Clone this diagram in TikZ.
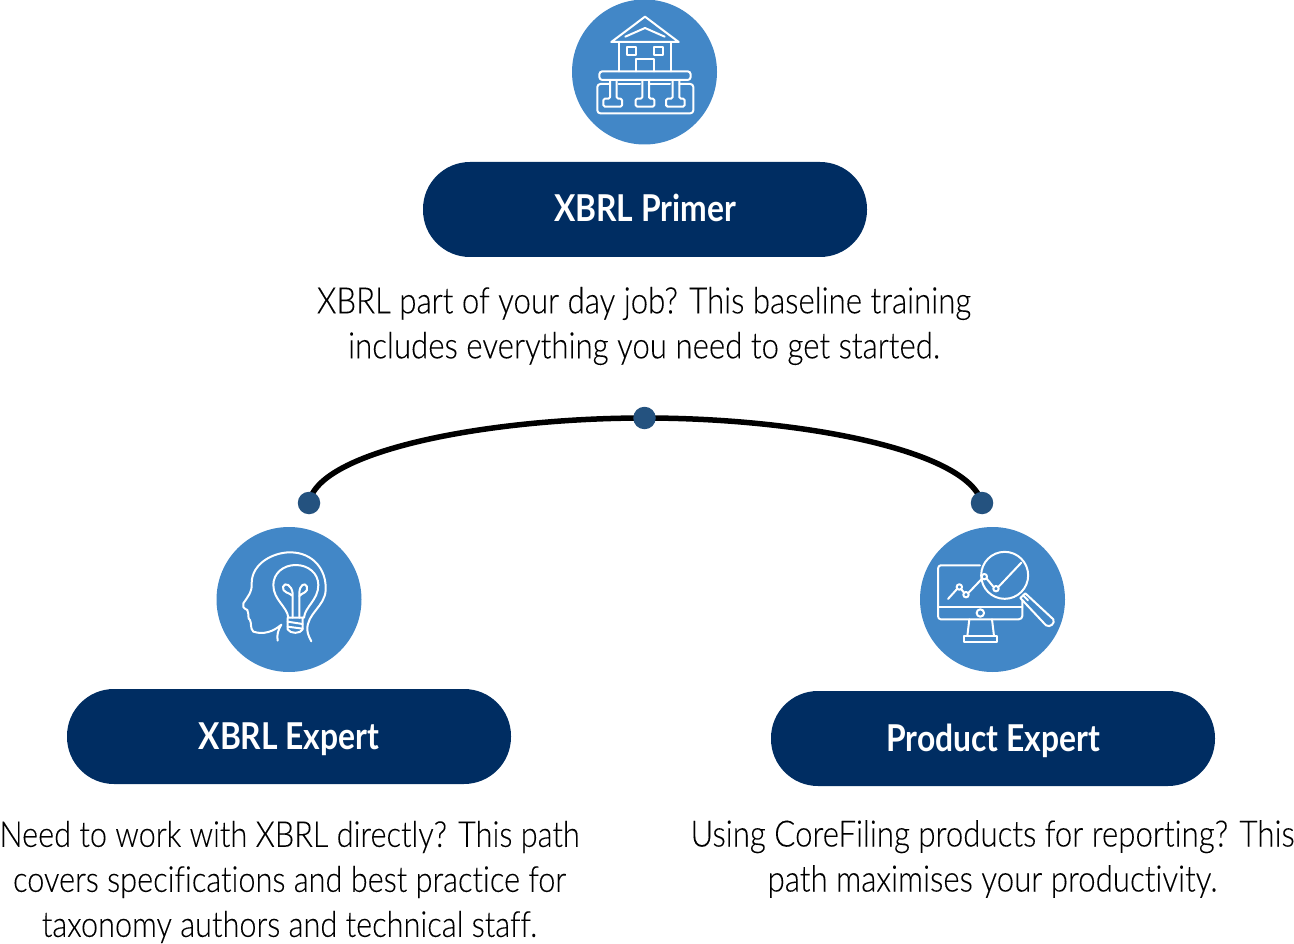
\documentclass[tikz,border=0pt]{standalone}
\usepackage{fontspec}
\setmainfont{Lato}[UprightFont=* Light,BoldFont=* Bold,FakeStretch=0.86,Ligatures=NoCommon,UprightFeatures={FakeBold=0.12}]
\definecolor{navy}{HTML}{002D62}
\definecolor{iconblue}{HTML}{4287C7}
\definecolor{dotblue}{HTML}{24527F}
\tikzset{
 pill/.style={draw=none,fill=navy,rounded corners=47pt,minimum width=444pt,minimum height=95pt,text=white,inner sep=0pt,text height=27pt,text depth=2pt,font=\fontsize{37}{40}\selectfont\bfseries},
 disc/.style={circle,fill=iconblue,draw=none,minimum size=145pt,inner sep=0pt},
 dotn/.style={circle,fill=dotblue,draw=none,minimum size=22.5pt,inner sep=0pt},
 para/.style={align=center,inner sep=0pt,text=black,font=\fontsize{36.3}{45}\selectfont},
 paranarrow/.style={para,font=\fontsize{35.7}{45}\selectfont},
 iconl/.style={draw=white,line width=2pt,line join=round,line cap=round},
 zoomed/.style={x=0.33333pt,y=-0.33333pt}
}
\begin{document}
\begin{tikzpicture}[x=1pt,y=-1pt]
\useasboundingbox (0,0) rectangle (1294,944);
\node[disc] (c1) at (644.5,72) {};
\node[disc] (c2) at (289,599.5) {};
\node[disc] (c3) at (992.5,599.5) {};
\node[pill] (p1) at (645,209.5) {XBRL Primer};
\node[pill] (p2) at (289,736.5) {XBRL Expert};
\node[pill] (p3) at (993,738.5) {Product Expert};
\node[para] (t1) at (644,326) {XBRL part of your day job? This baseline training\\includes everything you need to get started.};
\node[paranarrow] (t2) at (289.5,882) {Need to work with XBRL directly? This path\\covers specifications and best practice for\\taxonomy authors and technical staff.};
\node[para] (t3) at (992.5,859) {Using CoreFiling products for reporting? This\\path maximises your productivity.};
\draw[black,line width=5.5pt] (309,503) coordinate (a2) .. controls (318,450) and (490,418) .. (644.5,418) coordinate (a1) .. controls (800,418) and (968,450) .. (982,503) coordinate (a3);
\node[dotn] (d1) at (a1) {};
\node[dotn] (d2) at (a2) {};
\node[dotn] (d3) at (a3) {};
% house icon
\begin{scope}[shift={(560,0)},zoomed,iconl]
\draw (154,126) -- (255,50) -- (356,126) -- cycle;
\draw (176,126) -- (176,214) (332,126) -- (332,214);
\draw (196,110) -- (255,84) -- (314,110);
\draw (201,142) rectangle (227,164);
\draw (281,142) rectangle (309,164);
\draw (227,214) -- (227,178) -- (281,178) -- (281,214);
\draw[rounded corners=3pt] (118,214) rectangle (392,240);
\draw[rounded corners=3pt] (148,252) -- (112,252) -- (112,340) -- (400,340) -- (400,252) -- (358,252);
\draw (176,252) -- (240,252) (266,252) -- (330,252);
\foreach \xx in {158,255,346}{
 \draw[rounded corners=1.5pt] (\xx-8,240) -- (\xx-8,296) -- (\xx-28,296) -- (\xx-28,320) -- (\xx+28,320) -- (\xx+28,296) -- (\xx+12,296) -- (\xx+12,240);
}
\end{scope}
% head icon
\begin{scope}[shift={(210,520)},zoomed,iconl]
\draw (203,362) .. controls (200,345) and (204,330) .. (214,314) .. controls (190,335) and (160,345) .. (130,335) .. controls (120,325) and (125,310) .. (120,300) .. controls (112,296) and (118,285) .. (112,270) .. controls (100,265) and (96,258) .. (100,250) .. controls (110,235) and (128,215) .. (125,190) .. controls (125,130) and (190,97) .. (240,97) .. controls (310,97) and (350,150) .. (347,210) .. controls (345,260) and (290,280) .. (292,330) .. controls (293,345) and (300,355) .. (304,364);
\draw (235,293) .. controls (232,260) and (190,240) .. (190,195) .. controls (190,160) and (220,135) .. (257,135) .. controls (295,135) and (325,160) .. (325,195) .. controls (325,240) and (285,260) .. (282,293) -- cycle;
\draw (248,293) -- (248,228) .. controls (240,218) and (215,218) .. (219,200) .. controls (225,185) and (245,195) .. (248,220) -- (248,228) (268,228) -- (268,293);
\draw (268,228) .. controls (276,218) and (296,218) .. (291,200) .. controls (285,185) and (268,195) .. (268,220) -- (268,228);
\draw (233,293) -- (233,328) .. controls (240,342) and (272,342) .. (278,328) -- (278,293);
\draw (233,305) -- (278,312) (233,320) -- (278,326);
\end{scope}
% monitor icon
\begin{scope}[shift={(910,520)},zoomed,iconl]
\draw (210,136) -- (92,136) .. controls (88,136) and (84,140) .. (84,146) -- (84,288) .. controls (84,294) and (88,298) .. (92,298) -- (326,298) .. controls (332,298) and (337,294) .. (337,288) -- (337,240);
\draw (84,260) -- (337,260);
\draw (211,279) circle[radius=3.7pt];
\draw (178,298) -- (172,348) (246,298) -- (252,348);
\draw (162,348) rectangle (262,366);
\draw (284,166) circle[radius=23.5pt];
\draw (114,237) -- (142,206) (154,208) -- (162,218) (176,218) -- (216,176) (230,176) -- (250,200) (266,200) -- (334,128);
\foreach \a/\b in {148/201,168/224,223/170,258/206}{\draw (\a,\b) circle[radius=2.7pt];}
\draw (331,234) -- (346,220) -- (430,298) .. controls (436,310) and (420,324) .. (408,316) -- cycle;
\draw (339,226) -- (354,241);
\end{scope}
\end{tikzpicture}
\end{document}
